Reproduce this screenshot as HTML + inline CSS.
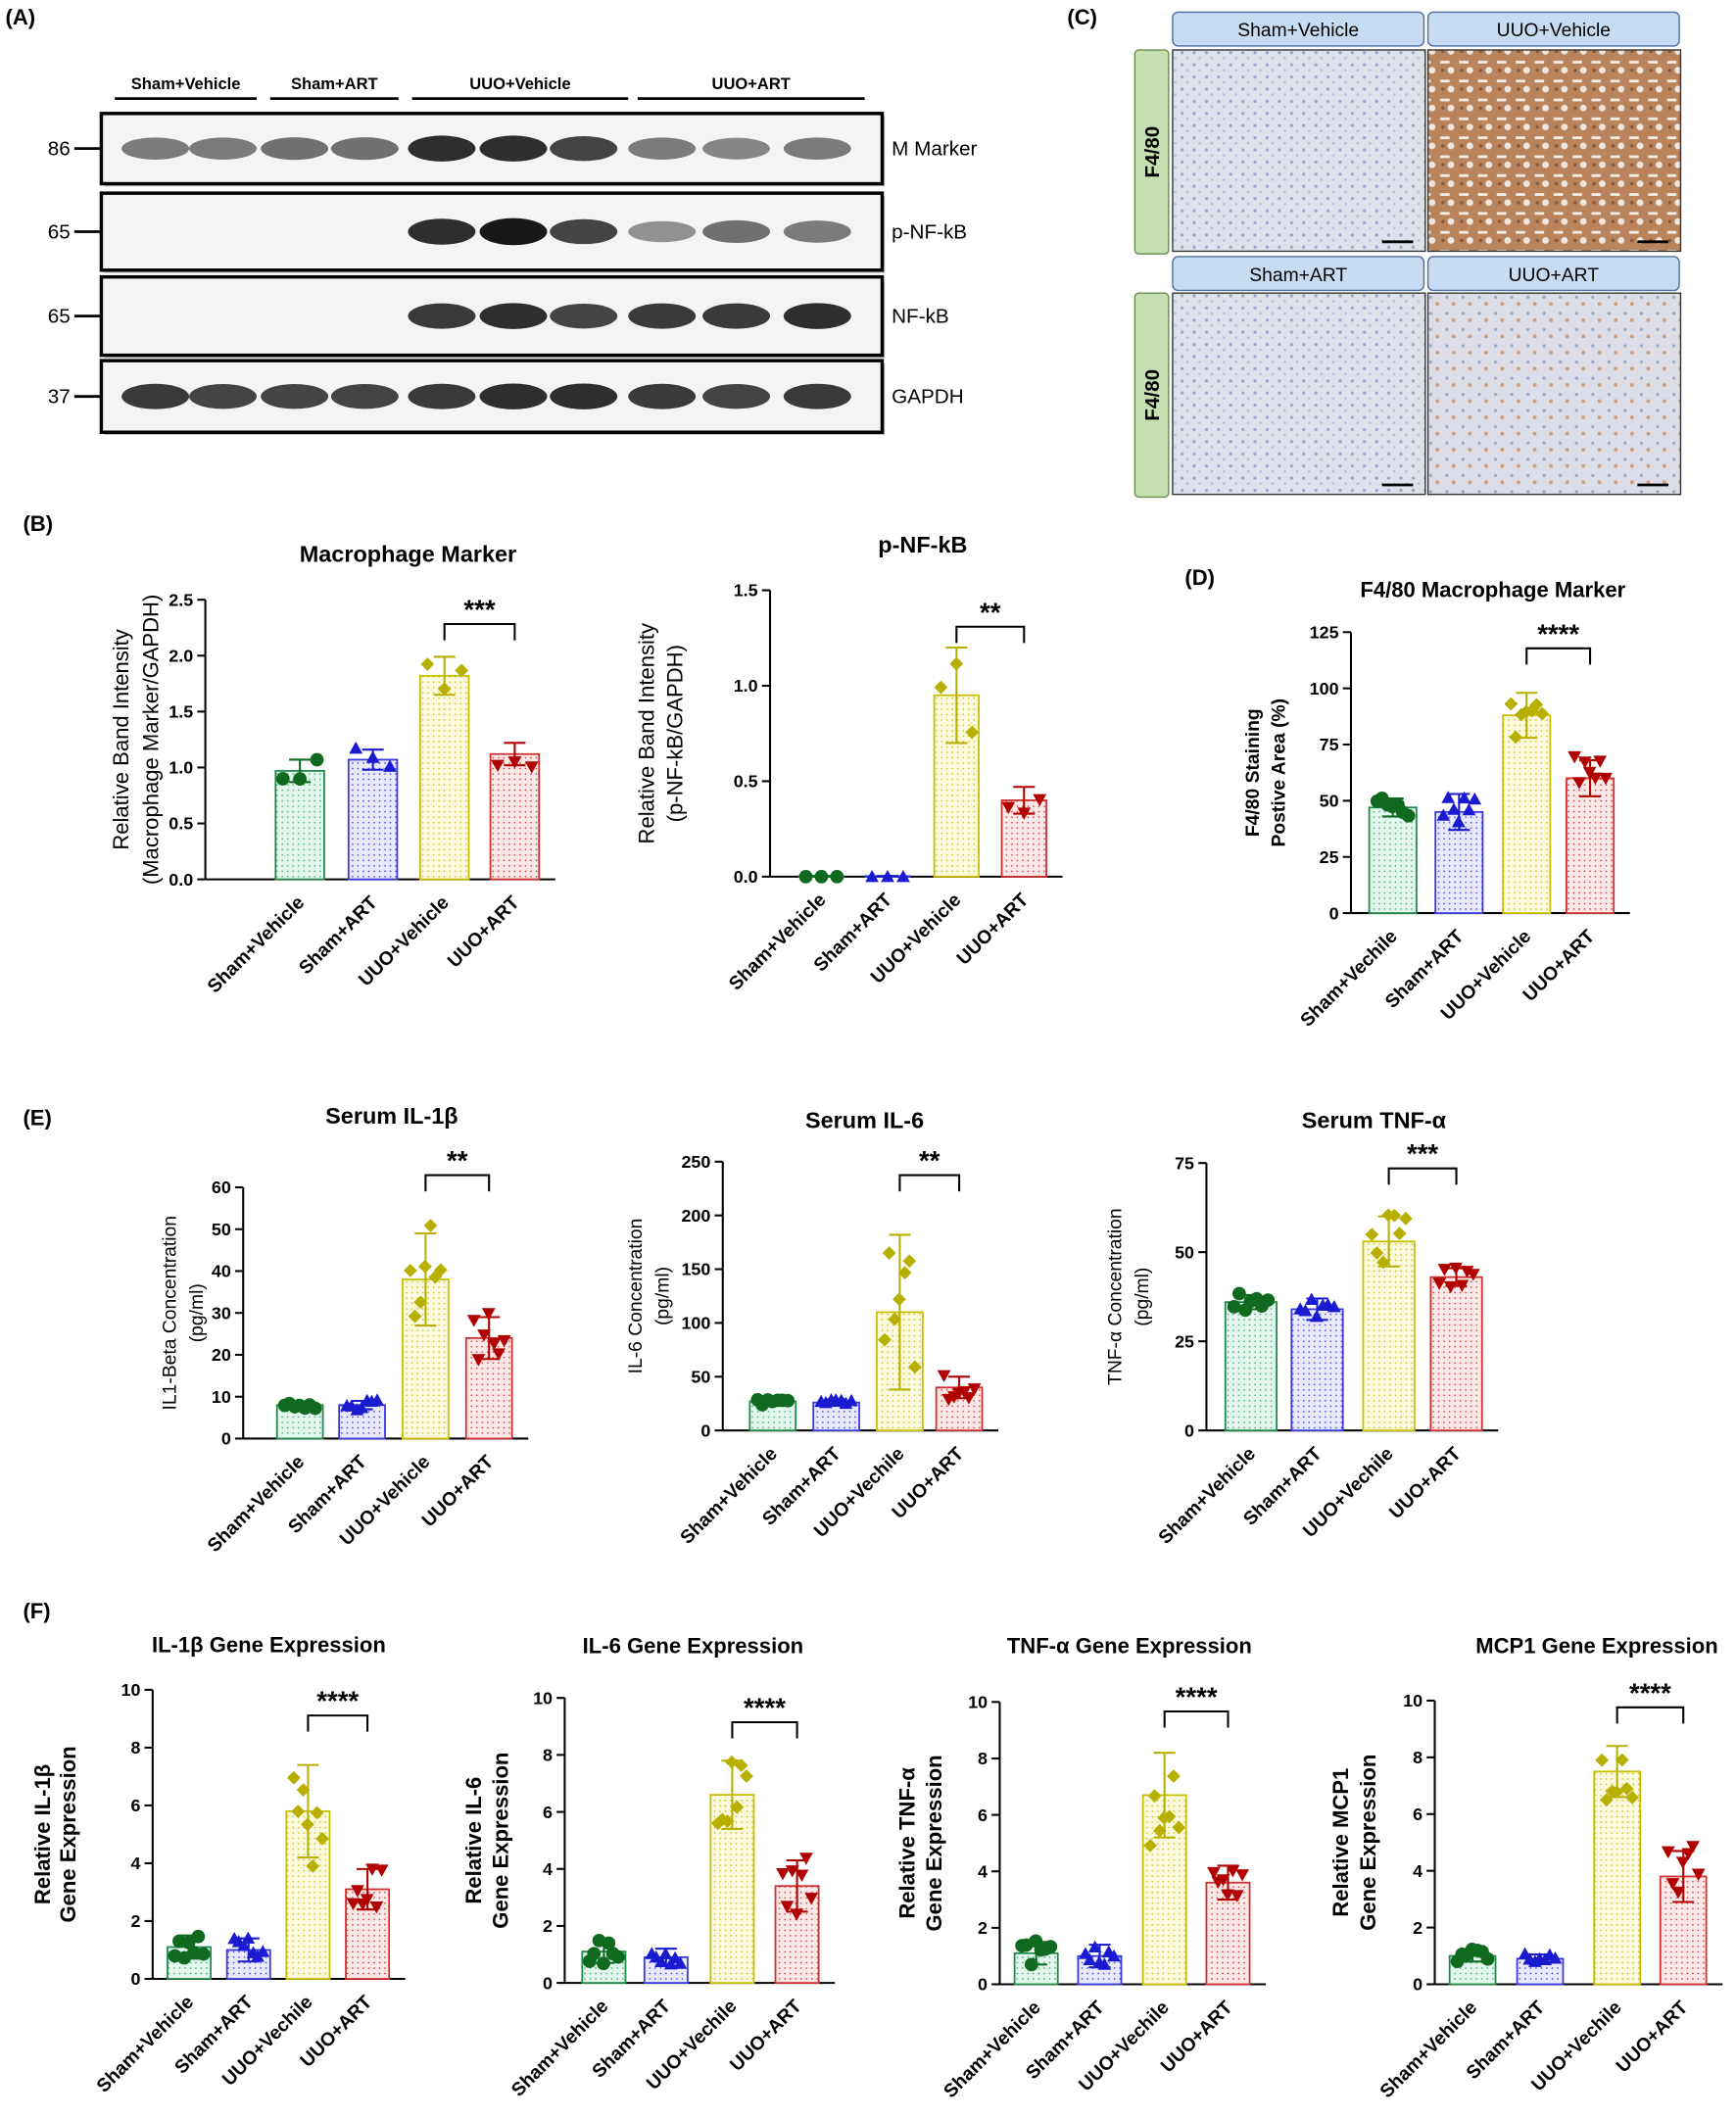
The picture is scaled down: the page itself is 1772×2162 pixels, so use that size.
<!DOCTYPE html>
<html><head><meta charset="utf-8"><style>
html,body{margin:0;padding:0;background:#fff}
svg{display:block}
text{font-family:"Liberation Sans",Arial,sans-serif}
</style></head><body>
<svg id="s" width="1772" height="2162" viewBox="0 0 1285 1568" preserveAspectRatio="none" xmlns="http://www.w3.org/2000/svg">
<defs>
<pattern id="pg" width="4" height="4" patternUnits="userSpaceOnUse"><rect width="4" height="4" fill="#e4f7ee"/><circle cx="1" cy="1" r="0.6" fill="#3aa86a"/></pattern>
<pattern id="pb" width="4" height="4" patternUnits="userSpaceOnUse"><rect width="4" height="4" fill="#e8e9fb"/><circle cx="1" cy="1" r="0.6" fill="#3a3ae0"/></pattern>
<pattern id="py" width="4" height="4" patternUnits="userSpaceOnUse"><rect width="4" height="4" fill="#fbfadf"/><circle cx="1" cy="1" r="0.6" fill="#c8c000"/></pattern>
<pattern id="pr" width="4" height="4" patternUnits="userSpaceOnUse"><rect width="4" height="4" fill="#fde8e8"/><circle cx="1" cy="1" r="0.6" fill="#d03030"/></pattern>
<pattern id="hl" width="9" height="9" patternUnits="userSpaceOnUse"><rect width="9" height="9" fill="#dfe2ea"/><circle cx="2" cy="3" r="1.2" fill="#9aa6c8"/><circle cx="6" cy="7" r="1" fill="#b8bfd6"/></pattern>
<pattern id="hb" width="14" height="14" patternUnits="userSpaceOnUse"><rect width="14" height="14" fill="#b9845c"/><rect x="2" y="3" width="7" height="2" fill="#f4eee8"/><circle cx="10" cy="10" r="2.5" fill="#f0e6de"/><circle cx="4" cy="10" r="1.3" fill="#8a5a3a"/></pattern>
<pattern id="hm" width="12" height="12" patternUnits="userSpaceOnUse"><rect width="12" height="12" fill="#dcdde6"/><circle cx="3" cy="4" r="1.2" fill="#9aa6c8"/><circle cx="8" cy="9" r="1.4" fill="#c79f82"/></pattern>
</defs>
<g id="g"></g>
</svg>
<script>
var NS="http://www.w3.org/2000/svg",G=document.getElementById('g');
function el(t,a,txt){var e=document.createElementNS(NS,t);for(var k in a)e.setAttribute(k,a[k]);if(txt!==undefined)e.textContent=txt;G.appendChild(e);return e;}
function T(x,y,s,sz,o){o=o||{};var a={x:x,y:y,'font-size':sz,'font-weight':o.w||'bold','text-anchor':o.a||'middle',fill:'#000'};if(o.r)a.transform='rotate('+o.r+' '+x+' '+y+')';return el('text',a,s);}
T(4,18,'(A)',16,{a:'start'});T(790,18,'(C)',16,{a:'start'});T(17,393,'(B)',16,{a:'start'});T(877,433,'(D)',16,{a:'start'});T(17,833,'(E)',16,{a:'start'});T(17,1198,'(F)',16,{a:'start'});
[['Sham+Vehicle',85,190],['Sham+ART',200,295],['UUO+Vehicle',305,465],['UUO+ART',472,640]].forEach(function(h){T((h[1]+h[2])/2,66,h[0],12);el('line',{x1:h[1],x2:h[2],y1:73,y2:73,stroke:'#000','stroke-width':2});});
var rows=[[84,136,'86','M Marker'],[143,200,'65','p-NF-kB'],[205,263,'65','NF-kB'],[267,320,'37','GAPDH']];
var lanes=[115,165,218,270,327,380,432,490,545,605];
var inten=[[.55,.55,.6,.6,.9,.9,.8,.55,.5,.55],[0,0,0,0,.9,1,.8,.45,.6,.55],[0,0,0,0,.85,.9,.8,.85,.85,.9],[.85,.8,.8,.8,.85,.9,.9,.85,.8,.85]];
rows.forEach(function(r,i){el('rect',{x:77,y:r[0]+2,width:578,height:r[1]-r[0],fill:'#bbb'});el('rect',{x:75,y:r[0],width:578,height:r[1]-r[0],fill:'#f4f4f4',stroke:'#000','stroke-width':2.5});
var cy=(r[0]+r[1])/2;lanes.forEach(function(x,j){var v=inten[i][j];if(v>0)el('ellipse',{cx:x,cy:cy,rx:25,ry:6+4*v,fill:'#000',opacity:v*0.9});});
T(52,cy+5,r[2],15,{w:'normal',a:'end'});el('line',{x1:55,x2:75,y1:cy,y2:cy,stroke:'#000','stroke-width':2});T(660,cy+5,r[3],15,{w:'normal',a:'start'});});
[[868,'Sham+Vehicle',9,37,'hl'],[1057,'UUO+Vehicle',9,37,'hb'],[868,'Sham+ART',190,217,'hl'],[1057,'UUO+ART',190,217,'hm']].forEach(function(p){
el('rect',{x:p[0],y:p[2],width:186,height:25,rx:4,fill:'#c6dcf2',stroke:'#4a6fa0','stroke-width':1});T(p[0]+93,p[2]+18,p[1],14,{w:'normal'});
el('rect',{x:p[0],y:p[3],width:187,height:149,fill:'url(#'+p[4]+')',stroke:'#333','stroke-width':1});
el('line',{x1:p[0]+155,x2:p[0]+178,y1:p[3]+142,y2:p[3]+142,stroke:'#000','stroke-width':2});});
[[37,188],[217,368]].forEach(function(b){el('rect',{x:840,y:b[0],width:25,height:b[1]-b[0],rx:3,fill:'#c5dfb0',stroke:'#6a8a50'});T(858,(b[0]+b[1])/2,'F4/80',15,{r:-90});});
var C={g:['url(#pg)','#1f8a4a','#0f6a20','c'],b:['url(#pb)','#3a3ae0','#1a1ad0','t'],y:['url(#py)','#c8c000','#b8b000','d'],r:['url(#pr)','#d03030','#b00000','v']};
function rnd(seed){var x=Math.sin(seed)*10000;return x-Math.floor(x);}
function marker(t,x,y,c){var s=5;if(t=='c')el('circle',{cx:x,cy:y,r:s,fill:c});else if(t=='t')el('polygon',{points:(x)+','+(y-s)+' '+(x-s)+','+(y+s*.8)+' '+(x+s)+','+(y+s*.8),fill:c});else if(t=='v')el('polygon',{points:(x)+','+(y+s)+' '+(x-s)+','+(y-s*.8)+' '+(x+s)+','+(y-s*.8),fill:c});else el('polygon',{points:x+','+(y-s)+' '+(x+s)+','+y+' '+x+','+(y+s)+' '+(x-s)+','+y,fill:c});}
function chart(o){var y0=o.y0,y1=o.y1,ax=o.ax,max=o.max,sc=function(v){return y0-(v/max)*(y0-y1);};
T(o.tx,o.ty,o.title,o.tsz||17);
var xe=o.bx[3]+o.bw/2+12;
el('line',{x1:ax,x2:ax,y1:y0,y2:y1,stroke:'#000','stroke-width':1.5});el('line',{x1:ax,x2:xe,y1:y0,y2:y0,stroke:'#000','stroke-width':1.5});
o.ticks.forEach(function(t,i){var y=sc(t);el('line',{x1:ax-6,x2:ax,y1:y,y2:y,stroke:'#000','stroke-width':1.5});T(ax-9,y+4.5,o.tl?o.tl[i]:String(t),13,{a:'end',w:o.tw||'bold'});});
var keys=['g','b','y','r'];
o.bx.forEach(function(x,i){var c=C[keys[i]],v=o.v[i],e=o.e[i],yt=sc(v);
el('rect',{x:x-o.bw/2,y:yt,width:o.bw,height:y0-yt,fill:c[0],stroke:c[1],'stroke-width':1.3});
el('line',{x1:x,x2:x,y1:sc(v-e),y2:sc(v+e),stroke:c[2],'stroke-width':1.5});
[v-e,v+e].forEach(function(q){el('line',{x1:x-8,x2:x+8,y1:sc(q),y2:sc(q),stroke:c[2],'stroke-width':1.5});});
for(var k=0;k<o.n;k++){var xx=x+(o.n>3?((k%4)-1.5)*o.bw*0.22+(k>=4?o.bw*0.1:0):(k-1)*o.bw*0.35);var vv=v+(rnd(k*7+i*13+o.ax)-0.5)*2.4*e;if(v<max*0.02)vv=0;marker(c[3],xx,sc(Math.max(0,vv)),c[2]);}
var ly=y0+14;T(x+4,ly+4,o.xl[i],14,{a:'end',r:-45});});
var by=o.br;el('polyline',{points:o.bx[2]+','+(by+12)+' '+o.bx[2]+','+by+' '+o.bx[3]+','+by+' '+o.bx[3]+','+(by+12),fill:'none',stroke:'#000','stroke-width':1.5});
T((o.bx[2]+o.bx[3])/2,by-4,o.star,20);
o.yl.forEach(function(l,i){T(o.ylx[i],(y0+y1)/2,l,o.ysz||16,{r:-90,w:o.yw||'normal'});});}
var XL1=['Sham+Vehicle','Sham+ART','UUO+Vehicle','UUO+ART'],XL2=['Sham+Vechile','Sham+ART','UUO+Vehicle','UUO+ART'],XL3=['Sham+Vehicle','Sham+ART','UUO+Vechile','UUO+ART'];
chart({title:'Macrophage Marker',tx:302,ty:416,ax:152,y0:651,y1:444,max:2.5,ticks:[0,0.5,1,1.5,2,2.5],tl:['0.0','0.5','1.0','1.5','2.0','2.5'],bx:[222,276,329,381],bw:36,v:[0.97,1.07,1.82,1.12],e:[0.1,0.09,0.17,0.1],n:3,br:462,star:'***',xl:XL1,yl:['Relative Band Intensity','(Macrophage Marker/GAPDH)'],ylx:[95,117]});
chart({title:'p-NF-kB',tx:683,ty:409,ax:570,y0:649,y1:437,max:1.5,ticks:[0,0.5,1,1.5],tl:['0.0','0.5','1.0','1.5'],bx:[608,657,708,758],bw:33,v:[0.003,0.003,0.95,0.4],e:[0,0,0.25,0.07],n:3,br:464,star:'**',xl:XL1,yl:['Relative Band Intensity','(p-NF-kB/GAPDH)'],ylx:[484,505]});
chart({title:'F4/80 Macrophage Marker',tx:1105,ty:442,tsz:16,ax:1000,y0:676,y1:468,max:125,ticks:[0,25,50,75,100,125],bx:[1031,1080,1130,1177],bw:35,v:[47,45,88,60],e:[4,8,10,8],n:7,br:480,star:'****',xl:XL2,yl:['F4/80 Staining','Postive Area (%)'],ylx:[932,951],ysz:14,yw:'bold'});
chart({title:'Serum IL-1β',tx:290,ty:832,ax:180,y0:1065,y1:879,max:60,ticks:[0,10,20,30,40,50,60],bx:[222,268,315,362],bw:34,v:[8,8,38,24],e:[0.8,1,11,5],n:7,br:870,star:'**',xl:XL1,yl:['IL1-Beta Concentration','(pg/ml)'],ylx:[130,150],ysz:14});
chart({title:'Serum IL-6',tx:640,ty:835,ax:535,y0:1059,y1:860,max:250,ticks:[0,50,100,150,200,250],bx:[572,619,666,710],bw:34,v:[27,26,110,40],e:[3,3,72,10],n:7,br:870,star:'**',xl:['Sham+Vehicle','Sham+ART','UUO+Vechile','UUO+ART'],yl:['IL-6 Concentration','(pg/ml)'],ylx:[475,495],ysz:14});
chart({title:'Serum TNF-α',tx:1017,ty:835,ax:893,y0:1059,y1:861,max:75,ticks:[0,25,50,75],bx:[926,975,1028,1078],bw:38,v:[36,34,53,43],e:[2,3,7,2.5],n:7,br:865,star:'***',xl:XL3,yl:['TNF-α Concentration','(pg/ml)'],ylx:[830,850],ysz:14});
var gt=[0,2,4,6,8,10];
chart({title:'IL-1β Gene Expression',tx:199,ty:1223,tsz:16,ax:113,y0:1465,y1:1251,max:10,ticks:gt,bx:[140,184,228,272],bw:32,v:[1.1,1.0,5.8,3.1],e:[0.4,0.4,1.6,0.7],n:7,br:1270,star:'****',xl:XL3,yl:['Relative IL-1β','Gene Expression'],ylx:[37,56],yw:'bold'});
chart({title:'IL-6 Gene Expression',tx:513,ty:1224,tsz:16,ax:418,y0:1468,y1:1257,max:10,ticks:gt,bx:[447,493,542,590],bw:32,v:[1.1,0.9,6.6,3.4],e:[0.4,0.3,1.2,0.9],n:7,br:1275,star:'****',xl:XL3,yl:['Relative IL-6','Gene Expression'],ylx:[356,376],yw:'bold'});
chart({title:'TNF-α Gene Expression',tx:836,ty:1224,tsz:16,ax:740,y0:1469,y1:1260,max:10,ticks:gt,bx:[767,814,862,909],bw:32,v:[1.1,1.0,6.7,3.6],e:[0.4,0.4,1.5,0.6],n:7,br:1267,star:'****',xl:XL3,yl:['Relative TNF-α','Gene Expression'],ylx:[677,697],yw:'bold'});
chart({title:'MCP1 Gene Expression',tx:1182,ty:1224,tsz:16,ax:1062,y0:1469,y1:1259,max:10,ticks:gt,bx:[1090,1140,1197,1246],bw:34,v:[1.0,0.9,7.5,3.8],e:[0.2,0.15,0.9,0.9],n:7,br:1264,star:'****',xl:XL3,yl:['Relative MCP1','Gene Expression'],ylx:[998,1018],yw:'bold'});
</script>
</body></html>
